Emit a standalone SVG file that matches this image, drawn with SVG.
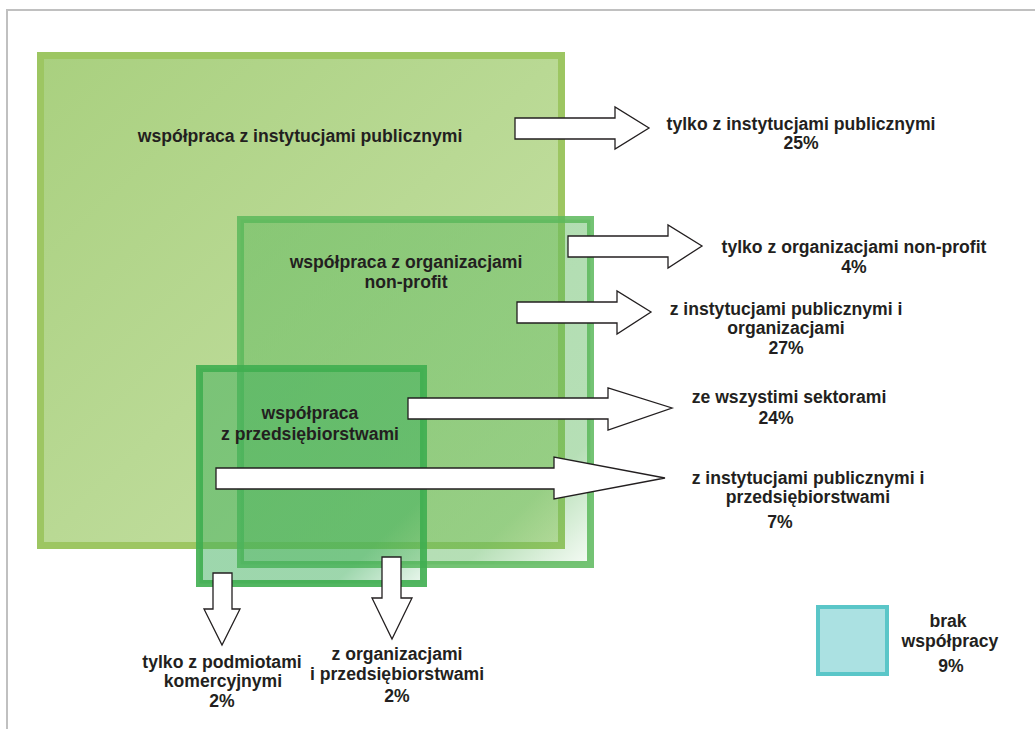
<svg xmlns="http://www.w3.org/2000/svg" width="1035" height="729" viewBox="0 0 1035 729">
<style>
text{font-family:"Liberation Sans",Arial,sans-serif;font-weight:bold;font-size:17.6px;fill:#231f20;text-anchor:middle}
.arrow{fill:#ffffff;stroke:#231f20;stroke-width:1.3;stroke-linejoin:miter}
</style>
<defs>
<linearGradient id="g1" x1="0" y1="0" x2="1" y2="1">
<stop offset="0" stop-color="#a9d07f"/>
<stop offset="1" stop-color="#c9e2a9"/>
</linearGradient>
<linearGradient id="g2" x1="0" y1="0" x2="1" y2="1">
<stop offset="0" stop-color="#5cb85c" stop-opacity="0.5"/>
<stop offset="0.82" stop-color="#5cb85c" stop-opacity="0.45"/>
<stop offset="1" stop-color="#5cb85c" stop-opacity="0.05"/>
</linearGradient>
<linearGradient id="g3" x1="0" y1="0" x2="1" y2="1">
<stop offset="0" stop-color="#3cae5a" stop-opacity="0.5"/>
<stop offset="0.8" stop-color="#3cae5a" stop-opacity="0.5"/>
<stop offset="1" stop-color="#3cae5a" stop-opacity="0.1"/>
</linearGradient>
</defs>
<rect width="1035" height="729" fill="#ffffff"/>
<path d="M7 729 V10 H1035" fill="none" stroke="#c0c0c0" stroke-width="2"/>

<g id="node-public">
<rect x="40.5" y="55.5" width="521" height="490" fill="url(#g1)" stroke="#9dc662" stroke-width="7"/>
<text x="300" y="142">współpraca z instytucjami publicznymi</text>
</g>
<g id="node-nonprofit">
<rect x="240.5" y="219.5" width="350" height="345" fill="url(#g2)" stroke="#5cb85c" stroke-opacity="0.85" stroke-width="7"/>
<text x="406" y="268">współpraca z organizacjami</text>
<text x="406" y="288">non-profit</text>
</g>
<g id="node-enterprises">
<rect x="199.5" y="368.5" width="224" height="215" fill="url(#g3)" stroke="#3fae50" stroke-opacity="0.9" stroke-width="7"/>
<text x="310" y="419">współpraca</text>
<text x="310" y="440">z przedsiębiorstwami</text>
</g>

<g id="connectors">
<polygon class="arrow" points="515,118 615,118 615,107 649,128 615,149 615,139 515,139"/>
<polygon class="arrow" points="568,236 668,236 668,225 702,246 668,268 668,257 568,257"/>
<polygon class="arrow" points="517,302 617,302 617,291 651,312 617,334 617,323 517,323"/>
<polygon class="arrow" points="408,398 608,398 608,388 672,408 608,430 608,419 408,419"/>
<polygon class="arrow" points="216,468 554,468 554,457 665,478 554,499 554,489 216,489"/>
<polygon class="arrow" points="213,573 232,573 232,609 240,609 222,645 204,609 213,609"/>
<polygon class="arrow" points="382,557 401,557 401,598 412,598 392,639 372,598 382,598"/>
</g>

<g id="label-public-only">
<text x="801" y="130">tylko z instytucjami publicznymi</text>
<text x="801" y="149">25%</text>
</g>
<g id="label-nonprofit-only">
<text x="854" y="253">tylko z organizacjami non-profit</text>
<text x="854" y="273">4%</text>
</g>
<g id="label-public-nonprofit">
<text x="786" y="315">z instytucjami publicznymi i</text>
<text x="786" y="334">organizacjami</text>
<text x="786" y="354">27%</text>
</g>
<g id="label-all">
<text x="789" y="403">ze wszystimi sektorami</text>
<text x="776" y="424">24%</text>
</g>
<g id="label-public-enterprises">
<text x="808" y="484">z instytucjami publicznymi i</text>
<text x="808" y="503">przedsiębiorstwami</text>
<text x="780" y="528">7%</text>
</g>
<g id="label-commercial-only">
<text x="222" y="668">tylko z podmiotami</text>
<text x="223" y="687">komercyjnymi</text>
<text x="222" y="707">2%</text>
</g>
<g id="label-nonprofit-enterprises">
<text x="397" y="660">z organizacjami</text>
<text x="397" y="680">i przedsiębiorstwami</text>
<text x="397" y="702">2%</text>
</g>
<g id="node-none">
<rect x="818" y="607" width="69" height="67" fill="#abe1e2" stroke="#5ac6c8" stroke-width="4"/>
<text x="948" y="627">brak</text>
<text x="950" y="647">współpracy</text>
<text x="951" y="672">9%</text>
</g>
</svg>
